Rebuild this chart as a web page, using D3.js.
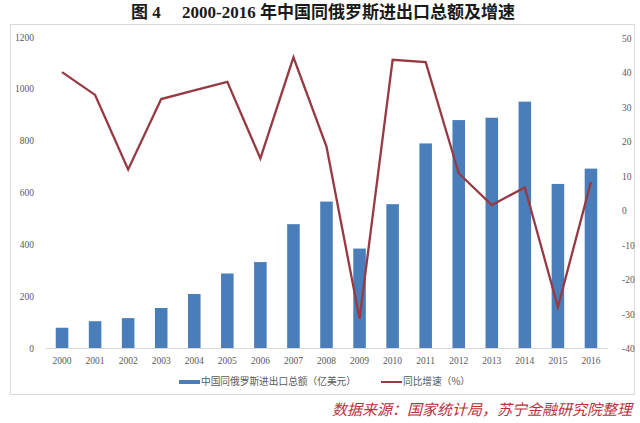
<!DOCTYPE html>
<html>
<head>
<meta charset="utf-8">
<script src="https://cdn.jsdelivr.net/npm/d3@7/dist/d3.min.js"></script>
<style>
  html, body { margin: 0; padding: 0; background: #ffffff; }
  svg { display: block; }
</style>
</head>
<body>
<svg id="chart" width="640" height="423"></svg>
<script>
const years = ["2000","2001","2002","2003","2004","2005","2006","2007","2008","2009","2010","2011","2012","2013","2014","2015","2016"];
const tradeTotal = [80, 105, 117, 156, 210, 289, 333, 479, 566, 385, 556, 790, 880, 889, 951, 634, 693];
const growthRate = [40.1, 33.5, 11.9, 32.3, 34.8, 37.3, 15.1, 44.4, 18.5, -31.4, 43.7, 43.0, 10.8, 1.6, 6.7, -28.0, 8.3];
const leftTicks = [0, 200, 400, 600, 800, 1000, 1200];
const rightTicks = [-40, -30, -20, -10, 0, 10, 20, 30, 40, 50];
const titleText = "图 4\u3000 2000-2016 年中国同俄罗斯进出口总额及增速";
const legendLabels = ["中国同俄罗斯进出口总额（亿美元）", "同比增速（%）"];
const sourceText = "数据来源：国家统计局，苏宁金融研究院整理";

const svg = d3.select("#chart");
const barColor = "#4a7ebb";
const lineColor = "#963a43";
const textColor = "#595959";
const numFont = "'Liberation Serif', 'Times New Roman', serif";
const cjkFont = "'Noto Sans CJK SC', sans-serif";

// Title
svg.append("text")
  .attr("x", 323).attr("y", 18)
  .attr("text-anchor", "middle")
  .attr("font-family", "'Liberation Serif', 'Noto Sans CJK SC', serif")
  .attr("font-weight", "bold")
  .attr("font-size", 17)
  .attr("fill", "#1a1a1a")
  .text(titleText);

// Frame
svg.append("rect")
  .attr("x", 10.5).attr("y", 24.5)
  .attr("width", 624).attr("height", 370)
  .attr("fill", "none")
  .attr("stroke", "#d9d9d9")
  .attr("stroke-width", 1);

// Scales
const x = d3.scaleBand().domain(years).range([45.5, 607.5]).paddingInner(0.62).paddingOuter(0.31);
const yL = d3.scaleLinear().domain([0, 1200]).range([348.5, 37]);
const yR = d3.scaleLinear().domain([-40, 50]).range([348.5, 38]);

// Left axis
const leftAxis = svg.append("g").attr("transform", "translate(34,0)")
  .call(d3.axisLeft(yL).tickValues(leftTicks).tickSize(0).tickPadding(0).tickFormat(d3.format("d")));
leftAxis.select(".domain").remove();
leftAxis.selectAll("text")
  .attr("font-family", numFont).attr("font-size", 9.5).attr("fill", textColor);

// Right axis
const rightAxis = svg.append("g").attr("transform", "translate(622,0)")
  .call(d3.axisRight(yR).tickValues(rightTicks).tickSize(0).tickPadding(0).tickFormat(d => d < 0 ? "-" + Math.abs(d) : String(d)));
rightAxis.select(".domain").remove();
rightAxis.selectAll("text")
  .attr("font-family", numFont).attr("font-size", 9.5).attr("fill", textColor);

// Bars
svg.append("g").selectAll("rect")
  .data(years)
  .join("rect")
  .attr("x", d => x(d))
  .attr("width", x.bandwidth())
  .attr("y", (d, i) => yL(tradeTotal[i]))
  .attr("height", (d, i) => yL(0) - yL(tradeTotal[i]))
  .attr("fill", barColor);

// Bottom axis
const bottomAxis = svg.append("g").attr("transform", `translate(0,${yL(0)})`)
  .call(d3.axisBottom(x).tickSize(0).tickPadding(9));
bottomAxis.select(".domain").attr("stroke", "#d9d9d9").attr("d", "M45.5,0H607.5");
bottomAxis.selectAll("text")
  .attr("font-family", numFont).attr("font-size", 9.5).attr("fill", textColor);

// Line
const line = d3.line()
  .x((d, i) => x(years[i]) + x.bandwidth() / 2)
  .y(d => yR(d));
svg.append("path")
  .datum(growthRate)
  .attr("d", line)
  .attr("fill", "none")
  .attr("stroke", lineColor)
  .attr("stroke-width", 2.3)
  .attr("stroke-linejoin", "miter");

// Legend
const legendY = 382;
const lg = svg.append("g");
lg.append("line").attr("x1", 179).attr("x2", 200).attr("y1", legendY).attr("y2", legendY)
  .attr("stroke", barColor).attr("stroke-width", 4);
lg.append("text").attr("x", 201).attr("y", legendY).attr("dy", "0.35em")
  .attr("font-family", cjkFont).attr("font-size", 9.7).attr("fill", textColor)
  .text(legendLabels[0]);
lg.append("line").attr("x1", 381).attr("x2", 402).attr("y1", legendY).attr("y2", legendY)
  .attr("stroke", lineColor).attr("stroke-width", 2);
lg.append("text").attr("x", 403).attr("y", legendY).attr("dy", "0.35em")
  .attr("font-family", cjkFont).attr("font-size", 9.7).attr("fill", textColor)
  .text(legendLabels[1]);

// Source
svg.append("text")
  .attr("x", 632).attr("y", 415)
  .attr("text-anchor", "end")
  .attr("font-family", cjkFont)
  .attr("font-style", "italic")
  .attr("font-size", 15)
  .attr("fill", "#b8323c")
  .text(sourceText);
</script>
</body>
</html>
